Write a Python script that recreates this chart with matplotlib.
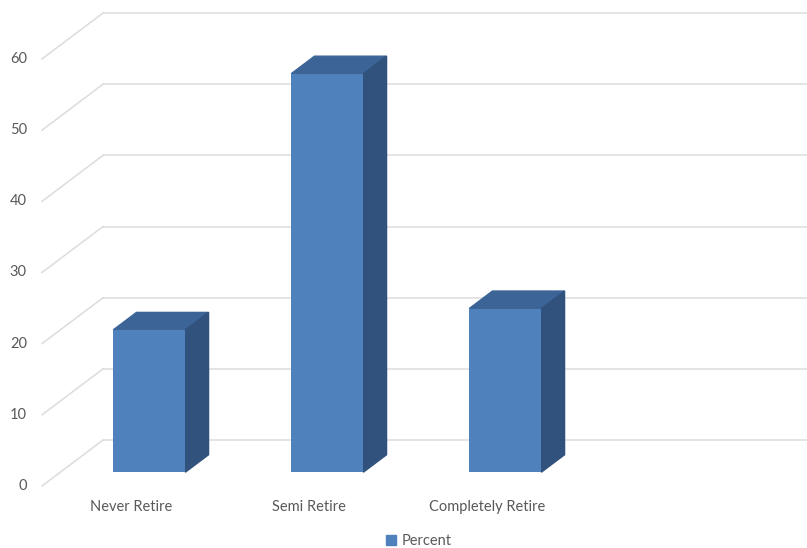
import matplotlib
matplotlib.use('Agg')
import matplotlib.pyplot as plt
from matplotlib.patches import Polygon, Patch

# data
categories = ['Never Retire', 'Semi Retire', 'Completely Retire']
percent = [20, 56, 23]
yticks = [0, 10, 20, 30, 40, 50, 60]
n_slots = 4          # excel left an empty 4th slot on the category axis

# colours
front = '#4F81BD'
top = '#3C6497'
side = '#30527D'
grid = '#DCDCDC'
txt = '#595959'

plt.rcParams['font.family'] = ['Lato', 'DejaVu Sans']
fs = 10.5

# fake 3d: depth offset of the whole floor, in data units
Dx, Dy = 0.343, 6.46
f0, f1 = 0.30, 0.68   # bar front/back as fraction of depth
bw = 0.405            # bar width in category units

fig = plt.figure(figsize=(8.07, 5.48), dpi=100)
ax = fig.add_axes([0, 0, 1, 1])
ax.set_xlim(-42 / 178, (807 - 42) / 178)
ax.set_ylim((486 - 548) / 7.117, 486 / 7.117)
ax.axis('off')

# back wall grid lines + left wall diagonals
for v in yticks:
    ax.plot([Dx, n_slots + Dx], [v + Dy, v + Dy], color=grid, lw=1.1, zorder=1)
    ax.plot([0, Dx], [v, v + Dy], color=grid, lw=1.1, zorder=1)
    ax.text(-0.085, v, str(v), ha='right', va='center', fontsize=fs, color=txt)

# bars: front face with ax.bar, top and side faces as polygons
xs = [i + 0.5 + f0 * Dx for i in range(len(categories))]
b0 = f0 * Dy
ddx, ddy = (f1 - f0) * Dx, (f1 - f0) * Dy
ax.bar(xs, percent, width=bw, bottom=b0, color=front, zorder=3)
for x, v in zip(xs, percent):
    xl, xr = x - bw / 2, x + bw / 2
    ax.add_patch(Polygon([(xl, v + b0), (xr, v + b0), (xr + ddx, v + b0 + ddy),
                          (xl + ddx, v + b0 + ddy)], closed=True, color=top, zorder=2))
    ax.add_patch(Polygon([(xr, b0), (xr, v + b0), (xr + ddx, v + b0 + ddy),
                          (xr + ddx, b0 + ddy)], closed=True, color=side, zorder=2))

# category labels on the front plane
for i, c in enumerate(categories):
    ax.text(i + 0.5, -3.0, c, ha='center', va='center', fontsize=fs, color=txt)

fig.legend(handles=[Patch(color=front)], labels=['Percent'], loc='center',
           bbox_to_anchor=(0.519, 1 - 541 / 548), frameon=False, fontsize=fs,
           handlelength=0.7, handleheight=0.7, handletextpad=0.4, labelcolor=txt)

fig.savefig('out.png', dpi=100)
